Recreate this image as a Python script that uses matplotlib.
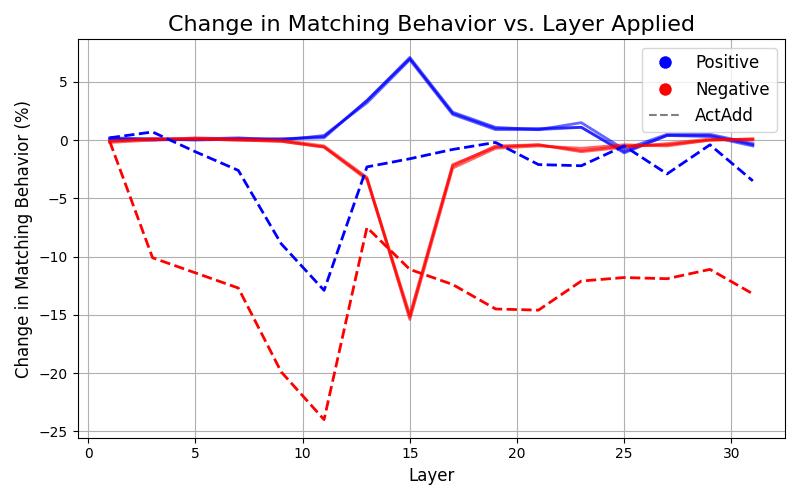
import matplotlib.pyplot as plt
from matplotlib.lines import Line2D

layers = [1, 3, 5, 7, 9, 11, 13, 15, 17, 19, 21, 23, 25, 27, 29, 31]

# steering runs (several per direction, drawn semi-transparent)
pos_runs = [
    [0.1, 0.1, 0.1, 0.1, 0.1, 0.3, 3.4, 7.0, 2.3, 1.0, 1.0, 1.1, -1.0, 0.4, 0.4, -0.4],
    [0.1, 0.0, 0.1, 0.2, 0.0, 0.4, 3.2, 6.9, 2.2, 0.9, 0.9, 1.5, -0.8, 0.5, 0.5, -0.3],
    [0.2, 0.1, 0.0, 0.1, 0.1, 0.2, 3.4, 7.1, 2.4, 1.1, 0.9, 1.1, -1.1, 0.4, 0.3, -0.5],
]
neg_runs = [
    [-0.1, 0.1, 0.1, 0.0, -0.1, -0.6, -3.3, -15.0, -2.1, -0.6, -0.4, -0.9, -0.5, -0.4, 0.0, 0.1],
    [-0.2, 0.0, 0.2, 0.1, 0.0, -0.5, -3.2, -15.4, -2.4, -0.7, -0.5, -0.7, -0.4, -0.5, 0.0, 0.1],
    [-0.1, 0.1, 0.1, 0.0, -0.1, -0.6, -3.4, -15.2, -2.2, -0.5, -0.4, -1.0, -0.6, -0.3, 0.1, 0.0],
]

# ActAdd baselines
actadd_pos = [0.2, 0.7, -1.0, -2.6, -8.9, -12.9, -2.3, -1.6, -0.8, -0.2, -2.1, -2.2, -0.5, -2.9, -0.4, -3.5]
actadd_neg = [-0.1, -10.1, -11.4, -12.7, -19.9, -24.0, -7.5, -11.1, -12.4, -14.5, -14.6, -12.1, -11.8, -11.9, -11.1, -13.2]

fig, ax = plt.subplots(figsize=(8, 5), dpi=100)

for run in pos_runs:
    ax.plot(layers, run, color="blue", alpha=0.6, linewidth=2)
for run in neg_runs:
    ax.plot(layers, run, color="red", alpha=0.6, linewidth=2)

ax.plot(layers, actadd_pos, color="blue", linestyle="--", linewidth=2)
ax.plot(layers, actadd_neg, color="red", linestyle="--", linewidth=2)

handles = [
    Line2D([0], [0], marker="o", color="w", markerfacecolor="blue", markersize=10, label="Positive"),
    Line2D([0], [0], marker="o", color="w", markerfacecolor="red", markersize=10, label="Negative"),
    Line2D([0], [0], color="gray", linestyle="--", label="ActAdd"),
]
ax.legend(handles=handles, loc="upper right", fontsize=12)

ax.set_title("Change in Matching Behavior vs. Layer Applied", fontsize=16)
ax.set_xlabel("Layer", fontsize=12)
ax.set_ylabel("Change in Matching Behavior (%)", fontsize=12)
ax.grid(True)

plt.tight_layout()
plt.savefig("out.png")
